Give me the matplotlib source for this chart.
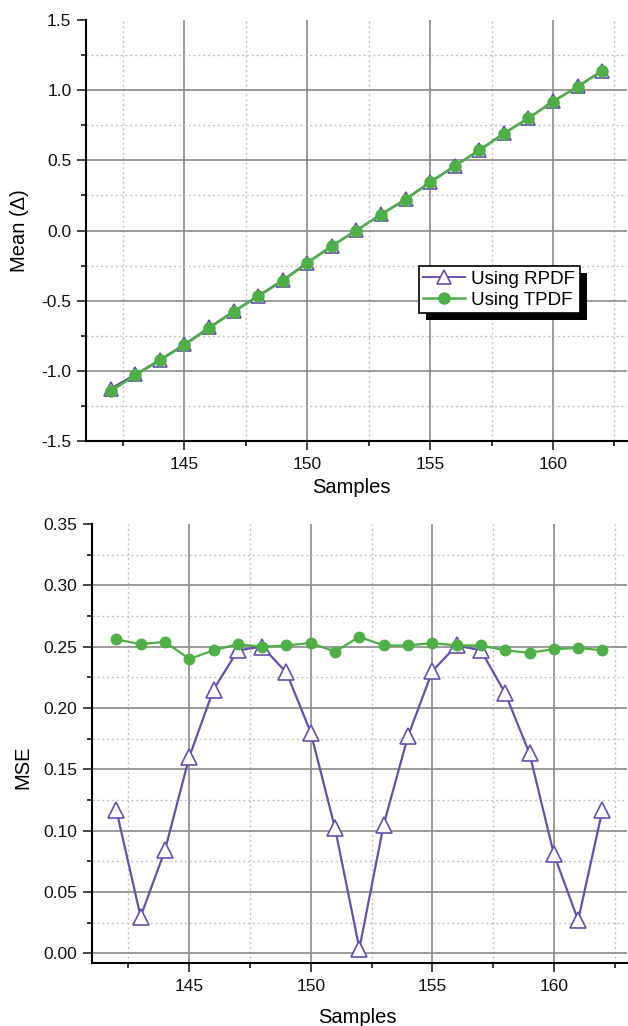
import matplotlib
matplotlib.use('Agg')
import matplotlib.pyplot as plt
from matplotlib.ticker import MultipleLocator
from matplotlib.patches import Rectangle

plt.rcParams['font.family'] = ['Liberation Sans', 'DejaVu Sans']

samples = list(range(142, 163))

mean_rpdf = [-1.125, -1.025, -0.920, -0.810, -0.690, -0.575, -0.465, -0.352, -0.228, -0.108,
             0.003, 0.116, 0.225, 0.346, 0.462, 0.574, 0.694, 0.802, 0.921, 1.027, 1.140]
mean_tpdf = [-1.145, -1.030, -0.924, -0.816, -0.695, -0.579, -0.469, -0.357, -0.233, -0.110,
             0.000, 0.114, 0.221, 0.343, 0.459, 0.571, 0.691, 0.800, 0.919, 1.024, 1.138]

mse_rpdf = [0.117, 0.030, 0.084, 0.160, 0.215, 0.247, 0.250, 0.229, 0.180, 0.102,
            0.004, 0.105, 0.177, 0.230, 0.251, 0.247, 0.212, 0.163, 0.081, 0.027, 0.117]
mse_tpdf = [0.256, 0.252, 0.254, 0.240, 0.247, 0.252, 0.250, 0.251, 0.253, 0.246,
            0.258, 0.251, 0.251, 0.253, 0.251, 0.251, 0.247, 0.245, 0.248, 0.249, 0.247]

purple = '#6650AC'
green = '#4DAF45'

fig = plt.figure(figsize=(6.28, 10.26), dpi=100)
ax1 = fig.add_axes([0.137, 0.570, 0.861, 0.4105])
ax2 = fig.add_axes([0.1465, 0.0614, 0.8515, 0.4279])


def style_axes(ax, ylim, ymajor, yminor):
    ax.set_xlim(141, 163)
    ax.set_ylim(*ylim)
    ax.xaxis.set_major_locator(MultipleLocator(5))
    ax.xaxis.set_minor_locator(MultipleLocator(2.5))
    ax.yaxis.set_major_locator(MultipleLocator(ymajor))
    ax.yaxis.set_minor_locator(MultipleLocator(yminor))
    for s in ['top', 'right']:
        ax.spines[s].set_visible(False)
    for s in ['left', 'bottom']:
        ax.spines[s].set_linewidth(1.5)
    ax.tick_params(which='major', direction='out', length=6.5, width=1.1,
                   labelsize=12.5, colors='#111111', pad=4)
    ax.tick_params(which='minor', direction='out', length=3.6, width=1.1)
    ax.tick_params(axis='x', which='major', pad=5)

    # grid lines drawn inside the frame only
    x0, x1 = ax.get_xlim()
    y0, y1 = ax.get_ylim()
    for x in ax.xaxis.get_majorticklocs():
        if x0 < x < x1:
            ax.axvline(x, color='#8a8a8a', lw=1.2, zorder=0)
    for x in ax.xaxis.get_minorticklocs():
        if x0 < x < x1:
            ax.axvline(x, color='#c4c4c4', lw=1.0, ls=(0, (1.5, 2)), zorder=0)
    for y in ax.yaxis.get_majorticklocs():
        if y0 < y < y1 - 1e-9:
            ax.axhline(y, color='#8a8a8a', lw=1.2, zorder=0)
    for y in ax.yaxis.get_minorticklocs():
        if y0 < y < y1 - 1e-9:
            ax.axhline(y, color='#c4c4c4', lw=1.0, ls=(0, (1.5, 2)), zorder=0)


# Mean plot
style_axes(ax1, (-1.5, 1.5), 0.5, 0.25)
ax1.plot(samples, mean_rpdf, color=purple, lw=1.4, marker='^', ms=10.5,
         mfc='white', mec=purple, mew=1.2, label='Using RPDF', zorder=3)
ax1.plot(samples, mean_tpdf, color=green, lw=1.8, marker='o', ms=8,
         mfc=green, mec=green, label='Using TPDF', zorder=4)
ax1.set_xlabel('Samples', fontsize=14.5)
ax1.set_ylabel('Mean (\u0394)', fontsize=14.5)
ax1.xaxis.set_label_coords(0.49, -0.088)
ax1.yaxis.set_label_coords(-0.105, 0.5)
ax1.yaxis.set_major_formatter(plt.FormatStrFormatter('%.1f'))

leg = ax1.legend(loc='upper left', bbox_to_anchor=(0.615, 0.416), borderaxespad=0,
                 fancybox=False, framealpha=1, edgecolor='black', fontsize=13.5,
                 handlelength=2.25, handletextpad=0.3, borderpad=0.25, labelspacing=0.2)
leg.get_frame().set_linewidth(1.2)
leg.set_zorder(6)

# MSE plot
style_axes(ax2, (-0.0078, 0.35), 0.05, 0.025)
ax2.plot(samples, mse_rpdf, color=purple, lw=1.6, marker='^', ms=11,
         mfc='white', mec=purple, mew=1.2, zorder=3)
ax2.plot(samples, mse_tpdf, color=green, lw=1.6, marker='o', ms=7.5,
         mfc=green, mec=green, zorder=4)
ax2.set_xlabel('Samples', fontsize=14.5)
ax2.set_ylabel('MSE', fontsize=14.5)
ax2.xaxis.set_label_coords(0.497, -0.1025)
ax2.yaxis.set_label_coords(-0.112, 0.445)
ax2.yaxis.set_major_formatter(plt.FormatStrFormatter('%.2f'))

# solid drop shadow behind the legend box
fig.canvas.draw()
bb = leg.get_window_extent().transformed(fig.transFigure.inverted())
dx, dy = 7 / 628, -7 / 1026
shadow = Rectangle((bb.x0 + dx, bb.y0 + dy), bb.width, bb.height,
                   transform=fig.transFigure, facecolor='black',
                   edgecolor='none', zorder=5.5, clip_on=False)
ax1.add_patch(shadow)

fig.savefig('out.png', dpi=100)
